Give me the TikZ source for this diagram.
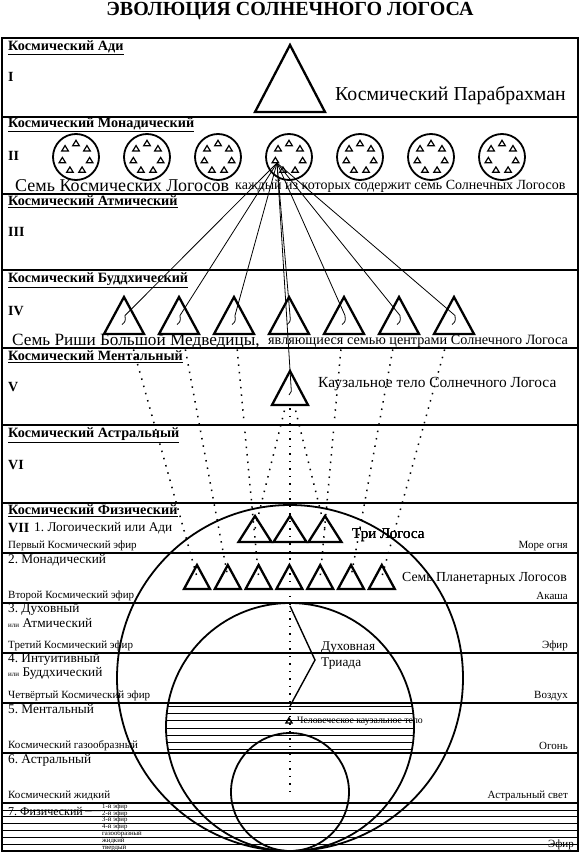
\documentclass[tikz,border=0pt]{standalone}
\usepackage{fontspec}
\setmainfont{Liberation Serif}
\usetikzlibrary{calc}
\tikzset{
  frame/.style={line width=2.2pt},
  tri/.style={line width=2.3pt,line join=miter},
  smtri/.style={line width=1.2pt},
  ring/.style={line width=1.8pt},
  fan/.style={line width=0.8pt},
  dots/.style={line width=1.5pt,dash pattern=on 1.5pt off 6pt},
  plane/.style={anchor=west,inner sep=0,font=\fontsize{14.2}{15}\selectfont\bfseries},
  num/.style={anchor=west,inner sep=0,font=\fontsize{14}{14}\selectfont\bfseries},
  big/.style={anchor=west,inner sep=0,font=\fontsize{19.8}{20}\selectfont},
  mid/.style={anchor=west,inner sep=0,font=\fontsize{14}{15}\selectfont},
  sub/.style={anchor=west,inner sep=0,font=\fontsize{13.3}{14}\selectfont},
  small/.style={anchor=west,inner sep=0,font=\fontsize{11}{12}\selectfont},
  rsmall/.style={anchor=east,inner sep=0,font=\fontsize{11}{12}\selectfont},
  tiny/.style={anchor=west,inner sep=0,font=\fontsize{6.8}{7}\selectfont},
}
% triangle: name, x, apex y, base y, half width
\newcommand\tria[5]{%
  \coordinate (#1) at (#2,{(#3+#4)/2});
  \draw[tri] (#2,#3) -- ({#2+#5},#4) -- ({#2-#5},#4) -- cycle;}
\begin{document}
\begin{tikzpicture}[x=1pt,y=-1pt]
\useasboundingbox (0,0) rectangle (580,853);
\node[font=\fontsize{20}{20}\selectfont\bfseries] (title) at (290,11) {ЭВОЛЮЦИЯ СОЛНЕЧНОГО ЛОГОСА};
\draw[frame,line width=2.6pt] (2,38) rectangle (578,851);
\foreach \y in {117,194,270,348,425,503,553,603,653,703,753,803} \draw[frame] (2,\y) -- (578,\y);
\foreach \k in {1,...,6} \draw[line width=0.7pt] (2,{803+6.86*\k}) -- (578,{803+6.86*\k});
\foreach \y/\t in {48/Ади,125/Монадический,202/Атмический,280/Буддхический,357/Ментальный,435/Астральный,511/Физический}
  \node[plane] (h\y) at (8,\y) {\underline{Космический \t}};
\foreach \y/\r in {77/I,156/II,232/III,311/IV,387/V,465/VI}
  \node[num] (r\y) at (8,\y) {\r};

% I
\tria{para}{290}{45}{112}{35}
\node[big] (parat) at (335,96) {Космический Парабрахман};

% II
\foreach \k in {0,...,6}{
  \pgfmathsetmacro\cx{76+71*\k}
  \draw[ring] (\cx,157) circle[radius=23pt];
  \foreach \a in {90,141.43,192.86,244.29,295.71,347.14,38.57}
    \draw[smtri] ($(\cx,157)+({14*cos(\a)},{-14*sin(\a)-2.7})$) -- ++(3.3,5.4) -- ++(-6.6,0) -- cycle;}
\coordinate (mon) at (277,163);
\node[big,font=\fontsize{18}{18}\selectfont] (kos) at (15,186) {Семь Космических Логосов};
\node[mid] (kos2) at (235,186) {каждый из которых содержит семь Солнечных Логосов};

% IV
\foreach \i in {1,...,7}{
  \pgfmathsetmacro\bx{124+55*(\i-1)}
  \tria{b\i}{\bx}{297}{334}{20}}
\node[big,font=\fontsize{17.2}{18}\selectfont] (rishi) at (12,341) {Семь Риши Большой Медведицы,};
\node[mid,font=\fontsize{14.2}{15}\selectfont] (rishi2) at (268,341) {являющиеся семью центрами Солнечного Логоса};

% V
\tria{caus}{290}{371}{405}{18}
\node[mid,font=\fontsize{15.4}{16}\selectfont] (caust) at (318,384) {Каузальное тело Солнечного Логоса};

% fan
\foreach \i in {1,...,7}
  \draw[fan] (mon) -- ($(b\i)+(1,0)$) .. controls ($(b\i)+(1.5,6)$) .. ($(b\i)+(-2,9)$);
\draw[fan] (mon) -- ($(caus)+(1,-2)$) .. controls ($(caus)+(1.5,4)$) .. ($(caus)+(-1,7)$);

% VII
\node[num] (r7) at (8,528) {VII};
\node[sub] (s1) at (34,528) {1.\ Логоический или Ади};
\node[small] (e1) at (8,546) {Первый Космический эфир};
\node[rsmall] (m1) at (568,546) {Море огня};
\node[sub] (s2) at (8,560) {2.\ Монадический};
\node[small] (e2) at (8,596) {Второй Космический эфир};
\node[rsmall] (m2) at (568,596) {Акаша};
\node[sub] (s3) at (8,609) {3.\ Духовный};
\node[sub] (s3b) at (8,623) {{\fontsize{7}{7}\selectfont или} Атмический};
\node[small] (e3) at (8,646) {Третий Космический эфир};
\node[rsmall] (m3) at (568,646) {Эфир};
\node[sub] (s4) at (8,659) {4.\ Интуитивный};
\node[sub] (s4b) at (8,673) {{\fontsize{7}{7}\selectfont или} Буддхический};
\node[small] (e4) at (8,696) {Четвёртый Космический эфир};
\node[rsmall] (m4) at (568,696) {Воздух};
\node[sub] (s5) at (8,709) {5.\ Ментальный};
\node[small] (e5) at (8,746) {Космический газообразный};
\node[rsmall] (m5) at (568,746) {Огонь};
\node[sub] (s6) at (8,760) {6.\ Астральный};
\node[small] (e6) at (8,796) {Космический жидкий};
\node[rsmall] (m6) at (568,796) {Астральный свет};
\node[sub,font=\fontsize{12}{12}\selectfont] (s7) at (8,811) {7.\ Физический};
\foreach \k/\t in {0/1-й эфир,1/2-й эфир,2/3-й эфир,3/4-й эфир,4/газообразный,5/жидкий,6/твердый}
  \node[tiny] (f\k) at (102,{806.6+6.86*\k}) {\t};
\draw[line width=0.8pt] ($(s7.east)+(2,0)$) -- ($(f0.west)+(-1,4)$);
\node[rsmall] (m7) at (574,845) {-- Эфир};

\draw[ring] (290,678) circle[radius=173pt];
\draw[ring] (290,727) circle[radius=124pt];
\draw[ring] (290,792) circle[radius=59pt];
\begin{scope}
  \clip (290,727) circle[radius=124pt];
  \foreach \k in {0,...,6} \draw[line width=0.7pt] (160,{706+7.3*\k}) -- (420,{706+7.3*\k});
\end{scope}

\foreach \i/\lx in {1/255,2/290,3/325} \tria{lg\i}{\lx}{516}{542}{16.5}
\node[mid,font=\fontsize{15}{15}\selectfont] (three) at (352,535) {Три Логоса};
\foreach \i in {1,...,7}{
  \pgfmathsetmacro\px{197+30.8*(\i-1)}
  \tria{pl\i}{\px}{565}{589}{13}}
\node[mid,font=\fontsize{13.8}{14}\selectfont] (seven) at (402,578) {Семь Планетарных Логосов};

% dotted descents
\foreach \i in {1,2,3,5,6,7} \draw[dots] ($(b\i)!0.13!(pl\i)$) -- (pl\i);
\foreach \i in {1,3} \draw[dots] ($(caus)!0.16!(lg\i)$) -- (lg\i);
\coordinate (foot) at (290,797);
\draw[dots] ($(caus)!0.05!(foot)$) -- (foot);

% spiritual triad
\coordinate (tA) at (290,606);
\coordinate (tB) at (315,660);
\coordinate (tC) at (290,706);
\draw[line width=1.4pt] (tA) -- (tB) -- (tC);
\node[sub] (trA) at (321,648) {Духовная};
\node[sub] (trB) at (321,664) {Триада};
\coordinate (hc) at (289,721);
\draw[line width=1.4pt] ($(hc)+(0,-3)$) -- ++(3,5) -- ++(-6,0) -- cycle;
\node[tiny,font=\fontsize{9.8}{10}\selectfont] (hct) at (297,721) {Человеческое каузальное тело};
\end{tikzpicture}
\end{document}
